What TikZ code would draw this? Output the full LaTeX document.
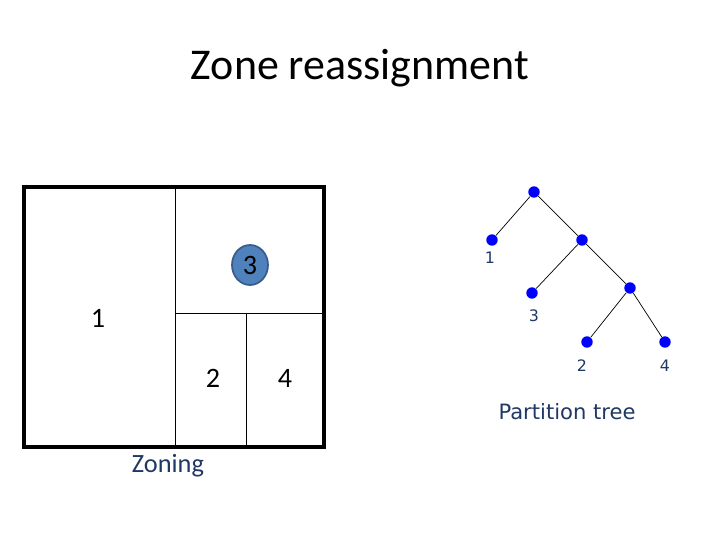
\documentclass[tikz,border=0pt]{standalone}
\usepackage{fontspec}
\setmainfont{Carlito}
\newfontfamily\tahoma{DejaVu Sans}
\usetikzlibrary{shapes.geometric}
\definecolor{zonefill}{HTML}{4F81BD}
\definecolor{zonedraw}{HTML}{385D8A}
\definecolor{labcol}{HTML}{1F3864}
\tikzstyle{leaf}=[circle,fill=blue,inner sep=0pt,minimum size=6.5pt]
\tikzstyle{branch}=[draw,black,thin]
\tikzstyle{zonelab}=[font=\fontsize{16}{16}\selectfont]
\tikzstyle{treelab}=[font=\tahoma\fontsize{9}{9}\selectfont,text=labcol]
\begin{document}
\begin{tikzpicture}[x=0.02cm,y=-0.02cm]
  \useasboundingbox (0,0) rectangle (720,540);

  \node (title) at (360,68) {\fontsize{25}{25}\selectfont Zone reassignment};

  % zoning
  \draw[line width=2.2pt] (24,187) rectangle (324,447);
  \draw (175,187) -- (175,447);
  \draw (175,313) -- (324,313);
  \draw (246,313) -- (246,447);
  \node[ellipse,fill=zonefill,draw=zonedraw,line width=1pt,
        minimum height=0.8cm,minimum width=0.72cm,inner sep=0pt,zonelab] (z3) at (250,265) {3};
  \node[zonelab] (z1) at (98,318) {1};
  \node[zonelab] (z2) at (213,378) {2};
  \node[zonelab] (z4) at (285,378) {4};
  \node[text=labcol,font=\fontsize{15}{15}\selectfont] (zoning) at (168,466) {Zoning};

  % partition tree
  \node[leaf] (r) at (534,192) {};
  \node[leaf] (a) at (492,240) {};
  \node[leaf] (b) at (582,240) {};
  \node[leaf] (c) at (532,293) {};
  \node[leaf] (d) at (630,288) {};
  \node[leaf] (e) at (587,342) {};
  \node[leaf] (f) at (665,342) {};
  \path[branch] (r) -- (a) (r) -- (b) (b) -- (c) (b) -- (d) (d) -- (e) (d) -- (f);
  \node[treelab] (la) at (490,258) {1};
  \node[treelab] (lc) at (534,316) {3};
  \node[treelab] (le) at (582,366) {2};
  \node[treelab] (lf) at (665,366) {4};
  \node[font=\tahoma\fontsize{12}{12}\selectfont,text=labcol] (pt) at (567,412) {Partition tree};
\end{tikzpicture}
\end{document}
